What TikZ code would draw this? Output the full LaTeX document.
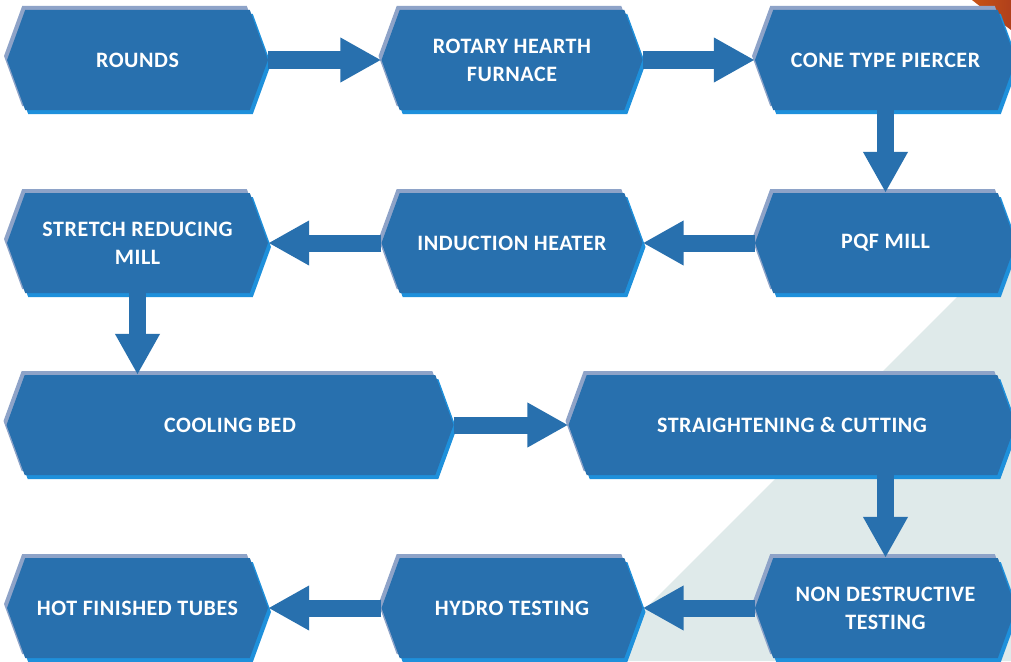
\documentclass[tikz,border=0pt]{standalone}
\usepackage{fontspec}
\setmainfont{Carlito}[LetterSpace=2.5]
\usetikzlibrary{shapes.symbols,shadows,arrows.meta}

\definecolor{cMain}{HTML}{2870AE}
\definecolor{cGrey}{HTML}{8EA3C8}
\definecolor{cLight}{HTML}{1E90DB}
\definecolor{cBack}{HTML}{DFEAEA}
\definecolor{cRust}{HTML}{B0401C}

\begin{document}
\begin{tikzpicture}[
		x=1pt, y=-1pt,
		every node/.style={signal, signal to=west and east, signal pointer angle=140,
			fill=cMain, text=white, font=\fontsize{22}{28}\selectfont\bfseries,
			align=center, minimum height=100pt, inner sep=0pt,
			general shadow={shadow xshift=-3pt, shadow yshift=4pt, fill=cGrey},
			general shadow={shadow xshift=3pt, shadow yshift=-4pt, fill=cLight}},
		small/.style={minimum width=261pt},
		wide/.style={minimum width=447pt},
		flow/.style={line width=17pt, draw=cMain, -{Triangle[length=41pt,width=42pt]}}
	]
	\clip (0,0) rectangle (1011,661);
	\fill[white] (0,0) rectangle (1011,661);
	\fill[cBack] (1011,243) -- (1011,661) -- (593,661) -- cycle;
	\shade[left color=cRust!70!orange, right color=cRust] (972,0) -- (1011,0) -- (1011,30) -- (995,18) -- cycle;

	\node[small] (n0) at (137.5,60)		{ROUNDS};
	\node[small] (n1) at (512,60)		{ROTARY HEARTH\\FURNACE};
	\node[small] (n2) at (885.5,60)		{CONE TYPE PIERCER};
	\node[small] (n3) at (137.5,243)	{STRETCH REDUCING\\MILL};
	\node[small] (n4) at (512,243)		{INDUCTION HEATER};
	\node[small] (n5) at (885.5,243)	{PQF MILL};
	\node[wide] (n6) at (230,425)		{COOLING BED};
	\node[wide] (n7) at (792,425)		{STRAIGHTENING \& CUTTING};
	\node[small] (n8) at (137.5,608)	{HOT FINISHED TUBES};
	\node[small] (n9) at (512,608)		{HYDRO TESTING};
	\node[small] (n10) at (885.5,608)	{NON DESTRUCTIVE\\TESTING};

	\foreach \from/\to in {
		n0.east/n1.west,
		n1.east/n2.west,
		n2.south/n5.north,
		n5.west/n4.east,
		n4.west/n3.east,
		n6.east/n7.west,
		n10.west/n9.east,
		n9.west/n8.east}
		\draw[flow] (\from) -- (\to);

	\draw[flow] (n3.south) -- (n3.south |- n6.north);
	\draw[flow] (n10.north |- n7.south) -- (n10.north);

\end{tikzpicture}
\end{document}
